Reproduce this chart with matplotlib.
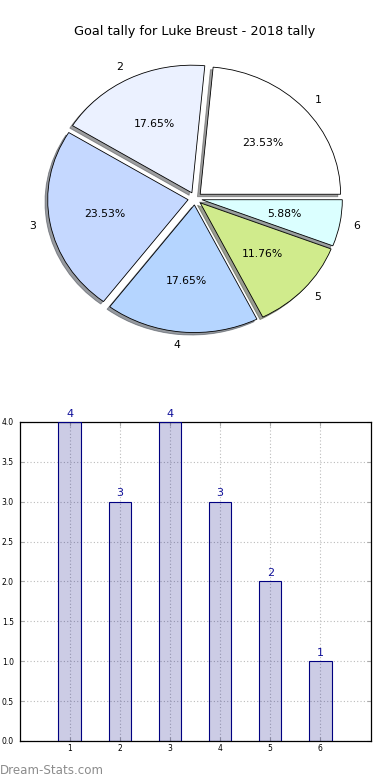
import matplotlib
matplotlib.use("Agg")
import matplotlib.pyplot as plt

categories = ["1", "2", "3", "4", "5", "6"]
goals = [4, 3, 4, 3, 2, 1]
pie_colors = ["#ffffff", "#ebf1ff", "#c5d8ff", "#b5d5ff", "#d0eb8c", "#dbffff"]
title = "Goal tally for Luke Breust - 2018 tally"
yticks = [0.0, 0.5, 1.0, 1.5, 2.0, 2.5, 3.0, 3.5, 4.0]

fig = plt.figure(figsize=(3.9, 7.8), dpi=100)
fig.subplots_adjust(left=0.05, right=0.95, top=0.95, bottom=0.05, hspace=0.2)

ax1 = fig.add_subplot(2, 1, 1)
wedges, texts, autotexts = ax1.pie(
    goals, labels=categories, colors=pie_colors, explode=[0.05] * len(goals),
    autopct="%1.2f%%", shadow={"ox": -0.014, "oy": -0.014, "shade": 0.75},
    startangle=0,
    wedgeprops=dict(edgecolor="black", linewidth=0.6),
    textprops=dict(fontsize=7.8, color="black"))
ax1.set_aspect("auto")
ax1.set_xlim(-1.25, 1.25)
ax1.set_ylim(-1.25, 1.25)
ax1.set_title(title, fontsize=9.3, pad=3)

ax2 = fig.add_subplot(2, 1, 2)
x = list(range(1, len(goals) + 1))
ax2.bar(x, goals, width=0.45, color="navy", alpha=0.2, zorder=2)
ax2.bar(x, goals, width=0.45, facecolor="none", edgecolor="navy", linewidth=0.8, zorder=3)
for xi, v in zip(x, goals):
    ax2.text(xi, v + 0.04, str(v), ha="center", va="bottom", color="#10109a", fontsize=8)
ax2.set_xlim(0, 7)
ax2.set_ylim(0, 4)
ax2.set_xticks(x)
ax2.set_xticklabels(categories)
ax2.set_yticks(yticks)
ax2.set_yticklabels([f"{t:.1f}" for t in yticks])
ax2.tick_params(direction="in", length=3, width=0.8, color="#aaaaaa", labelsize=5.5,
                top=True, right=True)
ax2.tick_params(axis="x", pad=2)
ax2.tick_params(axis="y", pad=4)
ax2.grid(True, linestyle=(0, (1, 2)), color="#bbbbbb", linewidth=0.8, zorder=0)
ax2.set_axisbelow(True)
for s in ax2.spines.values():
    s.set_linewidth(0.9)

fig.text(0.0, 0.004, "Dream-Stats.com", color="#8c8c8c", fontsize=8.6, ha="left", va="bottom")

fig.savefig("out.png", dpi=100)
